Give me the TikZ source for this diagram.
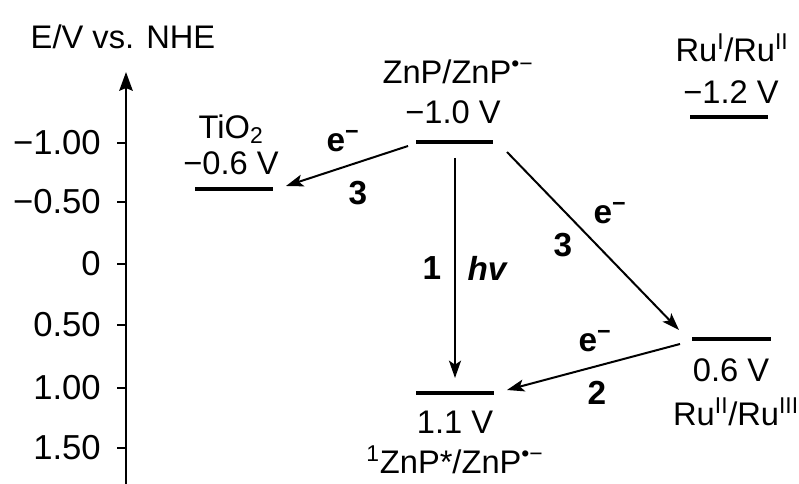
\documentclass[tikz,border=0pt]{standalone}
\usepackage{fontspec}
\setmainfont{Liberation Sans}
\usetikzlibrary{arrows.meta}
\tikzset{
  lab/.style   = {inner sep=0, font=\fontsize{24.5}{28}\selectfont},
  ticklab/.style = {inner sep=0, anchor=east, font=\fontsize{26}{30}\selectfont},
  elab/.style  = {inner sep=0, font=\fontsize{25}{28}\selectfont\bfseries},
  level/.style = {line width=3pt},
  xfer/.style  = {line width=1.5pt, -{Stealth[length=13pt,width=9pt,inset=3pt]}},
  tick/.style  = {line width=1.5pt}
}
\newcommand{\radan}{\textsuperscript{\textbullet−}}

\begin{document}
\begin{tikzpicture}[x=0.75pt,y=-0.75pt]
  \useasboundingbox (0,0) rectangle (799,484);

  % axis
  \coordinate (ab) at (126,484); \coordinate (at) at (126,72);
  \draw[line width=2pt,-{Stealth[length=14pt,width=10pt,inset=2pt]}] (ab)--(at);
  \node[lab] (ylab) at (123,37) {E/V vs. NHE};
  \foreach \y/\v [count=\i] in {143/−1.00,202/−0.50,264/0,325/0.50,388/1.00,448/1.50}{
    \coordinate (t\i) at (117,\y);
    \draw[tick] (t\i)--(126,\y);
    \node[ticklab] (v\i) at (101,\y) {\v};
  }

  % levels
  \coordinate (til) at (195,189); \coordinate (tir) at (273,189); \draw[level] (til)--(tir);
  \node[lab] (ti1) at (231,129) {TiO\textsubscript{2}};
  \node[lab] (ti2) at (231,163) {−0.6 V};

  \coordinate (zl) at (416,142); \coordinate (zr) at (493,142); \draw[level] (zl)--(zr);
  \node[lab] (z1) at (458,72) {ZnP/ZnP\radan};
  \node[lab] (z2) at (453,112) {−1.0 V};

  \coordinate (sl) at (416,393); \coordinate (sr) at (494,393); \draw[level] (sl)--(sr);
  \node[lab] (s1) at (455,422) {1.1 V};
  \node[lab] (s2) at (455,460) {\textsuperscript{1}ZnP*/ZnP\radan};

  \coordinate (al) at (690,117); \coordinate (ar) at (768,117); \draw[level] (al)--(ar);
  \node[lab] (a1) at (732,48) {Ru\textsuperscript{I}/Ru\textsuperscript{II}};
  \node[lab] (a2) at (731,92) {−1.2 V};

  \coordinate (bl) at (692,339); \coordinate (br) at (771,339); \draw[level] (bl)--(br);
  \node[lab] (b1) at (731,370) {0.6 V};
  \node[lab] (b2) at (736,412) {Ru\textsuperscript{II}/Ru\textsuperscript{III}};

  % electron transfers
  \coordinate (p1) at (408,146); \coordinate (p2) at (286,186);
  \draw[xfer] (p1)--(p2);
  \node[elab] (e1) at (343,141) {e\textsuperscript{−}};
  \node[elab] (n1) at (358,193) {3};

  \coordinate (q1) at (455,158); \coordinate (q2) at (455,378);
  \draw[xfer] (q1)--(q2);
  \node[elab] (n2) at (432,268) {1};
  \node[elab] (hv) at (487,268) {\itshape hv};

  \coordinate (r1) at (507,152); \coordinate (r2) at (679,330);
  \draw[xfer] (r1)--(r2);
  \node[elab] (e2) at (610,213) {e\textsuperscript{−}};
  \node[elab] (n3) at (563,245) {3};

  \coordinate (u1) at (680,344); \coordinate (u2) at (507,390);
  \draw[xfer] (u1)--(u2);
  \node[elab] (e3) at (595,341) {e\textsuperscript{−}};
  \node[elab] (n4) at (597,393) {2};
\end{tikzpicture}
\end{document}
